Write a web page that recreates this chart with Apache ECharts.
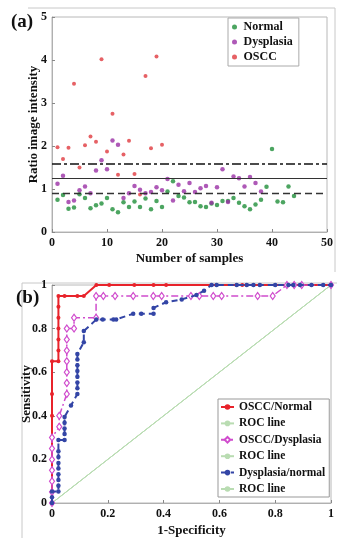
<!DOCTYPE html>
<html><head><meta charset="utf-8">
<script src="https://cdn.jsdelivr.net/npm/echarts@6/dist/echarts.min.js"></script>
<style>html,body{margin:0;padding:0;background:#fff}#c{width:344px;height:543px}</style>
</head><body><div id="c"></div>
<script>
// ---------- (a) scatter data: ratio image intensity per sample ----------
const normalVals = [0.75,0.86,0.54,0.57,0.88,0.79,0.55,0.62,0.66,0.79,0.53,0.46,0.69,0.58,0.71,0.58,0.78,0.53,0.72,0.58,0.94,1.18,0.84,0.80,0.69,0.70,0.60,0.58,0.66,0.63,0.72,0.72,0.79,0.68,0.60,0.53,0.64,0.75,1.05,1.93,0.71,0.69,1.06,0.84];
const dysplasiaVals = [1.12,1.31,0.70,0.73,0.97,1.06,0.90,1.43,1.67,1.46,2.13,2.03,0.79,0.90,1.07,0.98,0.90,0.93,1.04,0.97,1.23,0.73,1.10,0.95,1.14,0.93,1.02,1.07,0.68,1.04,1.46,0.70,1.29,1.25,1.06,1.28,1.14,0.94];
const osccVals = [1.97,1.70,1.96,3.45,1.50,2.02,2.22,2.10,4.02,1.87,2.75,1.33,1.80,2.12,1.35,0.87,3.63,1.95,4.08,2.03];
const thresholds = [1.58, 1.24, 0.90];
const xTicksA = [0,10,20,30,40,50];
const yTicksA = [0,1,2,3,4,5];

// ---------- (b) ROC curves: [1-specificity, sensitivity] ----------
const rocOsccNormal = [[0,0],[0,0.1],[0,0.2],[0,0.3],[0,0.4],[0,0.5],[0,0.65],[0.023,0.65],[0.023,0.7],[0.023,0.75],[0.023,0.8],[0.023,0.85],[0.023,0.9],[0.023,0.95],[0.045,0.95],[0.091,0.95],[0.114,0.95],[0.159,1],[0.205,1],[0.295,1],[0.364,1],[0.409,1],[0.682,1],[1,1]];
const rocOsccDysplasia = [[0,0],[0,0.05],[0,0.1],[0,0.15],[0,0.2],[0,0.25],[0,0.3],[0.026,0.35],[0.026,0.4],[0.053,0.5],[0.053,0.55],[0.053,0.6],[0.053,0.65],[0.053,0.7],[0.053,0.75],[0.053,0.8],[0.079,0.8],[0.079,0.85],[0.158,0.85],[0.158,0.95],[0.184,0.95],[0.226,0.95],[0.291,0.95],[0.363,0.95],[0.393,0.95],[0.498,0.95],[0.528,0.95],[0.578,0.95],[0.608,0.95],[0.737,0.95],[0.791,0.95],[0.842,1],[0.868,1],[0.895,1],[1,1]];
const rocDysplasiaNormal = [[0,0],[0,0.026],[0,0.053],[0.023,0.053],[0.023,0.079],[0.023,0.105],[0.023,0.132],[0.023,0.158],[0.023,0.184],[0.023,0.211],[0.023,0.237],[0.023,0.289],[0.045,0.289],[0.045,0.316],[0.045,0.342],[0.045,0.368],[0.045,0.395],[0.068,0.447],[0.091,0.5],[0.091,0.526],[0.091,0.553],[0.091,0.579],[0.091,0.605],[0.091,0.632],[0.091,0.658],[0.091,0.684],[0.114,0.737],[0.114,0.789],[0.159,0.842],[0.182,0.842],[0.22,0.842],[0.23,0.842],[0.291,0.868],[0.32,0.868],[0.364,0.868],[0.364,0.895],[0.409,0.921],[0.465,0.934],[0.518,0.954],[0.545,0.974],[0.572,1],[0.59,1],[0.662,1],[0.698,1],[0.722,1],[0.745,1],[0.8,1],[0.847,1],[0.865,1],[0.889,1],[0.93,1],[0.972,1],[1,1]];
const rocLine = [[0,0],[1,1]];
const xTicksB = [0,0.2,0.4,0.6,0.8,1];

const FONT = 'Liberation Serif';
const toXY = arr => arr.map((v,i)=>[i+1,v]);

const tickLabel = {fontFamily:FONT,fontWeight:'bold',fontSize:12,color:'#111'};
const nameStyle = {fontFamily:FONT,fontWeight:'bold',fontSize:13,color:'#111'};
function ax(extra){
  return Object.assign({
    axisLine:{show:true,lineStyle:{color:'#b0b0b0',width:1}},
    axisTick:{show:true,inside:true,length:3,lineStyle:{color:'#888'}},
    splitLine:{show:false},
    axisLabel:Object.assign({margin:5},tickLabel),
    nameTextStyle:nameStyle,
    nameLocation:'middle',
    nameMoveOverlap:false
  },extra);
}

const chart = echarts.init(document.getElementById('c'),null,{renderer:'canvas'});
const option = {
  backgroundColor:'#fff',
  animation:false,
  grid:[
    {left:52,right:17,top:17,height:215,show:true,borderColor:'#b8b8b8',borderWidth:1,backgroundColor:'transparent'},
    {left:52,right:13,top:285,height:218,show:true,borderColor:'#b8b8b8',borderWidth:1,backgroundColor:'transparent'}
  ],
  xAxis:[
    ax({gridIndex:0,type:'value',min:0,max:50,interval:10,name:'Number of samples',nameGap:20}),
    ax({gridIndex:1,type:'value',min:0,max:1,interval:0.2,name:'1-Specificity',nameGap:21,
        axisLabel:Object.assign({margin:5,formatter:v=>String(+v.toFixed(1))},tickLabel)})
  ],
  yAxis:[
    ax({gridIndex:0,type:'value',min:0,max:5,interval:1,name:'Ratio image intensity',nameGap:12}),
    ax({gridIndex:1,type:'value',min:0,max:1,interval:0.2,name:'Sensitivity',nameGap:19,
        axisLabel:Object.assign({margin:5,formatter:v=>String(+v.toFixed(1))},tickLabel)})
  ],
  legend:[
    {
      data:['Normal','Dysplasia','OSCC'],
      orient:'vertical',left:228,top:18,itemWidth:8,itemHeight:5,itemGap:3,
      padding:[3,6,3,4],
      backgroundColor:'#fff',borderColor:'#aaa',borderWidth:1,borderRadius:0,
      textStyle:{fontFamily:FONT,fontWeight:'bold',fontSize:12,color:'#111'}
    },
    {
      data:['OSCC/Normal','ROC line','OSCC/Dysplasia','ROC line\u200b','Dysplasia/normal','ROC line\u200b\u200b'],
      orient:'vertical',left:218,top:399,itemWidth:13,itemHeight:7,itemGap:4.4,
      padding:[2,4,2,2],
      backgroundColor:'#fff',borderColor:'#999',borderWidth:1,borderRadius:0,
      textStyle:{fontFamily:FONT,fontWeight:'bold',fontSize:11.5,color:'#111'}
    }
  ],
  graphic:[
    {type:'polyline',shape:{points:[[28,8],[335,8],[335,272]]},style:{stroke:'#c8c8c8',fill:null,lineWidth:1},silent:true},
    {type:'polyline',shape:{points:[[22,538],[22,283],[337,283]]},style:{stroke:'#c8c8c8',fill:null,lineWidth:1},silent:true},
    {type:'text',left:11,top:13,style:{text:'(a)',font:'bold 19px "Liberation Serif"',fill:'#111'}},
    {type:'text',left:16,top:289,style:{text:'(b)',font:'bold 19px "Liberation Serif"',fill:'#111'}}
  ],
  series:[
    {name:'Normal',type:'scatter',xAxisIndex:0,yAxisIndex:0,data:toXY(normalVals),symbol:'circle',symbolSize:4.5,itemStyle:{color:'#1f8f3a'},
     markLine:{silent:true,symbol:'none',label:{show:false},data:[
       {yAxis:thresholds[0],lineStyle:{type:[9,3,3,3],color:'#111',width:1.5}},
       {yAxis:thresholds[1],lineStyle:{type:'solid',color:'#333',width:1}},
       {yAxis:thresholds[2],lineStyle:{type:[7,4],color:'#333',width:1.3}}
     ]}},
    {name:'Dysplasia',type:'scatter',xAxisIndex:0,yAxisIndex:0,data:toXY(dysplasiaVals),symbol:'circle',symbolSize:4.5,itemStyle:{color:'#9a2fa5'}},
    {name:'OSCC',type:'scatter',xAxisIndex:0,yAxisIndex:0,data:toXY(osccVals),symbol:'circle',symbolSize:4,itemStyle:{color:'#e0393e'}},

    {name:'ROC line',type:'line',xAxisIndex:1,yAxisIndex:1,data:rocLine,symbol:'none',lineStyle:{color:'#b9dcb2',width:1},itemStyle:{color:'#b9dcb2'},z:1},
    {name:'ROC line\u200b',type:'line',xAxisIndex:1,yAxisIndex:1,data:rocLine,symbol:'none',lineStyle:{color:'#b9dcb2',width:1},itemStyle:{color:'#b9dcb2'},z:1},
    {name:'ROC line\u200b\u200b',type:'line',xAxisIndex:1,yAxisIndex:1,data:rocLine,symbol:'none',lineStyle:{color:'#b9dcb2',width:1},itemStyle:{color:'#b9dcb2'},z:1},
    {name:'OSCC/Normal',type:'line',xAxisIndex:1,yAxisIndex:1,data:rocOsccNormal,symbol:'circle',symbolSize:4,showAllSymbol:true,
     lineStyle:{color:'#e8232b',width:2},itemStyle:{color:'#e8232b'},z:2},
    {name:'OSCC/Dysplasia',type:'line',xAxisIndex:1,yAxisIndex:1,data:rocOsccDysplasia,symbol:'diamond',symbolSize:[5,7],showAllSymbol:true,
     lineStyle:{color:'#d04ccd',width:1.5,type:[7,3,2,3]},itemStyle:{color:'#fff',borderColor:'#d04ccd',borderWidth:1.2},z:3},
    {name:'Dysplasia/normal',type:'line',xAxisIndex:1,yAxisIndex:1,data:rocDysplasiaNormal,symbol:'circle',symbolSize:4.5,showAllSymbol:true,
     lineStyle:{color:'#3345a6',width:2,type:[6,4]},itemStyle:{color:'#3345a6'},z:4}
  ]
};
chart.setOption(option);
</script></body></html>
